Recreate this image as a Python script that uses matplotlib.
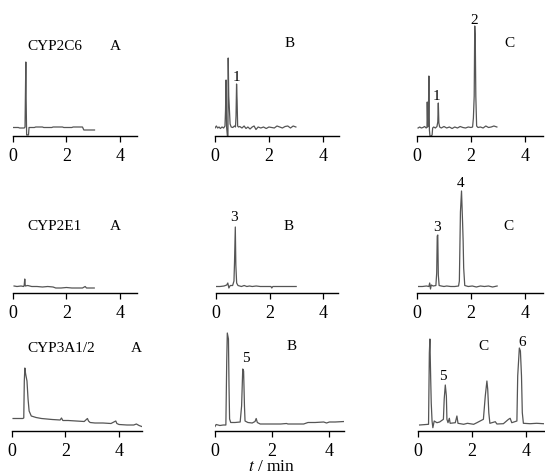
import numpy as np
import matplotlib.pyplot as plt

plt.rcParams['font.family'] = ['Liberation Serif', 'DejaVu Serif']

# chromatogram traces: retention time (min) and detector response (arbitrary units)
t_2c6_a = [0.00, 0.20, 0.25, 0.42, 0.45, 0.48, 0.49, 0.51, 0.53, 0.58, 0.60, 0.80, 0.85, 1.10, 1.15,
           1.45, 1.50, 1.85, 1.90, 2.20, 2.25, 2.60, 2.65, 3.05]
y_2c6_a = [8.5, 8.5, 8, 8, 9, 74, 40, 1, 1, 1, 8.5, 8.5, 9, 9, 8.5,
           8.5, 9, 9, 8.5, 8.5, 9, 9, 6, 6]

t_2c6_b = [0.00, 0.05, 0.10, 0.15, 0.20, 0.26, 0.32, 0.37, 0.39, 0.41, 0.43, 0.45, 0.46, 0.48, 0.49,
           0.51, 0.53, 0.56, 0.60, 0.66, 0.72, 0.76, 0.78, 0.80, 0.82, 0.84, 0.87, 0.92, 1.00, 1.08,
           1.15, 1.22, 1.30, 1.38, 1.45, 1.52, 1.60, 1.70, 1.80, 1.90, 2.00, 2.10, 2.20, 2.30, 2.40,
           2.50, 2.60, 2.70, 2.80, 2.90, 3.00]
y_2c6_b = [8, 10, 8, 9, 7.5, 9, 8, 10, 25, 56, 9, 3, 0, 0, 78,
           40, 29, 12, 9, 8.5, 10, 9, 20, 52, 35, 10, 9, 9.5, 8, 10,
           7.5, 9, 7, 9, 10, 6.5, 9, 8, 9, 7.5, 9, 8.5, 8, 10, 9,
           8, 9.5, 10, 8, 10, 9]

t_2c6_c = [0.04, 0.10, 0.16, 0.22, 0.28, 0.34, 0.37, 0.38, 0.40, 0.42, 0.44, 0.46, 0.48, 0.52, 0.56,
           0.58, 0.62, 0.68, 0.74, 0.77, 0.79, 0.81, 0.84, 0.90, 1.00, 1.10, 1.20, 1.30, 1.40, 1.50,
           1.60, 1.70, 1.80, 1.90, 2.00, 2.06, 2.09, 2.12, 2.14, 2.16, 2.18, 2.21, 2.26, 2.35, 2.45,
           2.55, 2.65, 2.75, 2.85, 2.96]
y_2c6_c = [8, 9, 8, 8.5, 9.5, 8, 9, 34, 9, 15, 60, 6, 0, 0, 1,
           8, 9, 8, 9.5, 14, 33, 13, 9, 8, 9.5, 8, 9, 7.5, 9, 8,
           9.5, 8.5, 8, 9, 8.5, 9, 18, 40, 110, 97, 40, 10, 8.5, 9, 8,
           10, 8.5, 9, 10, 9]

t_2e1_a = [0.04, 0.15, 0.30, 0.40, 0.42, 0.44, 0.46, 0.55, 0.70, 0.90, 1.10, 1.30, 1.50, 1.60, 1.80,
           2.00, 2.20, 2.40, 2.60, 2.70, 2.75, 2.85, 3.04]
y_2e1_a = [7, 6.5, 7, 6.5, 8, 14, 7, 7.5, 6.5, 6.5, 6, 6.5, 6, 5, 5,
           5.5, 5, 5, 5, 6.5, 5, 5, 5]

t_2e1_b = [0.01, 0.15, 0.30, 0.40, 0.44, 0.48, 0.53, 0.62, 0.67, 0.69, 0.72, 0.74, 0.77, 0.82, 0.95,
           1.05, 1.15, 1.25, 1.35, 1.50, 1.65, 1.85, 2.05, 2.08, 2.12, 2.40, 2.70, 2.99]
y_2e1_b = [6.5, 6.5, 7, 8, 10, 5, 7.5, 7.5, 12, 30, 66, 28, 10, 7.5, 6.5,
           7.5, 6.5, 7, 6.5, 7, 6.5, 6.5, 6.5, 5, 6.5, 6.5, 6.5, 6.5]

t_2e1_c = [0.06, 0.20, 0.35, 0.44, 0.47, 0.50, 0.53, 0.60, 0.70, 0.73, 0.75, 0.77, 0.79, 0.82, 0.90,
           1.00, 1.10, 1.25, 1.40, 1.54, 1.57, 1.61, 1.65, 1.69, 1.71, 1.73, 1.77, 1.90, 2.05, 2.20,
           2.35, 2.50, 2.65, 2.80, 2.97]
y_2e1_c = [6.5, 6.5, 7, 6.5, 10, 4, 8, 7, 7.5, 20, 57, 58, 18, 7.5, 7,
           6.5, 7, 6.5, 6.5, 7, 12, 81, 102, 70, 52, 25, 7.5, 6.5, 7, 6,
           7, 6.5, 7, 6, 7]

t_3a_a = [0.04, 0.20, 0.40, 0.44, 0.46, 0.48, 0.51, 0.56, 0.60, 0.64, 0.72, 0.90, 1.10, 1.30, 1.50,
          1.80, 1.85, 1.90, 2.10, 2.40, 2.70, 2.82, 2.86, 2.92, 3.10, 3.40, 3.70, 3.88, 3.92, 4.00,
          4.30, 4.55, 4.65, 4.75, 4.85]
y_3a_a = [12.5, 12.5, 12.5, 13, 50, 63, 57, 50, 32, 20, 15, 13.5, 12.5, 12, 11.5,
          11, 13, 10.5, 10.5, 10, 9.5, 12.5, 10, 8.5, 8, 8, 7.5, 10, 7.5, 6.5,
          6, 6, 7, 5.5, 4.5]

t_3a_b = [0.00, 0.04, 0.17, 0.29, 0.38, 0.41, 0.43, 0.47, 0.49, 0.51, 0.55, 0.70, 0.88, 0.93, 0.97,
          1.00, 1.03, 1.05, 1.15, 1.30, 1.40, 1.44, 1.48, 1.58, 1.90, 2.30, 2.50, 2.55, 2.80, 3.10,
          3.25, 3.50, 3.80, 3.90, 4.00, 4.20, 4.52]
y_3a_b = [4.5, 6.5, 5.5, 6, 6, 70, 98, 92, 45, 12, 8.5, 8.5, 9, 25, 62,
          60, 25, 10, 8.5, 8, 9.5, 12.5, 8.5, 7, 7, 7, 7.5, 7, 7, 7,
          8.5, 8.5, 9, 8, 9, 9, 9.5]

t_3a_c = [0.06, 0.39, 0.42, 0.44, 0.47, 0.49, 0.52, 0.55, 0.60, 0.70, 0.80, 0.94, 0.97, 1.01, 1.05,
          1.07, 1.11, 1.16, 1.19, 1.38, 1.44, 1.48, 1.69, 1.83, 2.06, 2.18, 2.42, 2.49, 2.55, 2.58,
          2.62, 2.66, 2.86, 2.92, 3.16, 3.35, 3.41, 3.47, 3.66, 3.69, 3.75, 3.79, 3.83, 3.86, 3.90,
          4.15, 4.39, 4.64]
y_3a_c = [6, 6.7, 78, 92, 52, 28, 10, 3.3, 10, 8.3, 9, 11.7, 32, 46, 35,
          11.7, 8.3, 12.7, 7.7, 8.3, 15, 7.7, 6.7, 7.7, 6.7, 8.3, 11.7, 35, 50, 41.7,
          18.3, 7.7, 9.3, 7, 7.3, 11.7, 12.7, 8.3, 10, 55, 83, 80, 55, 18.3, 7.7,
          7.3, 7.7, 7.3]

ticks = [0, 2, 4]


def pix_axes(fig, left, base, right, top=120):
    # left/right/base in pixels from top-left corner, y range = pixels above the axis line
    W, H = 545, 477
    ax = fig.add_axes([left / W, 1 - base / H, (right - left) / W, top / H])
    ax.set_ylim(0, top)
    for s in ['left', 'right', 'top']:
        ax.spines[s].set_visible(False)
    ax.spines['bottom'].set_linewidth(1.0)
    ax.set_yticks([])
    ax.set_xticks(ticks)
    ax.tick_params(axis='x', direction='out', length=4.5, width=0.9, pad=3.5, labelsize=13)
    ax.patch.set_alpha(0)
    return ax


def panel(fig, left, base, right, xmax, t, y, labels):
    ax = pix_axes(fig, left, base, right)
    ax.set_xlim(0, xmax)
    ax.plot(t, y, color='#555555', lw=0.9)
    for (tx, ty, s, ha) in labels:
        ax.text(tx, ty, s, ha=ha, va='center', fontsize=11, clip_on=False)
    return ax


fig = plt.figure(figsize=(5.45, 4.77), dpi=100)

# row 1 : CYP2C6
panel(fig, 13, 137, 137, 4.64, t_2c6_a, y_2c6_a,
      [(0.52, 91, 'CYP2C6', 'left'), (3.82, 91, 'A', 'center')])
panel(fig, 215, 137, 339, 4.6, t_2c6_b, y_2c6_b,
      [(2.78, 94, 'B', 'center'), (0.81, 60, '1', 'center')])
panel(fig, 417, 137, 543, 4.67, t_2c6_c, y_2c6_c,
      [(3.44, 94, 'C', 'center'), (2.11, 117, '2', 'center'), (0.74, 40, '1', 'center')])

# row 2 : CYP2E1
panel(fig, 13, 294, 137, 4.64, t_2e1_a, y_2e1_a,
      [(0.52, 67, 'CYP2E1', 'left'), (3.82, 67, 'A', 'center')])
panel(fig, 216, 294, 338, 4.55, t_2e1_b, y_2e1_b,
      [(2.72, 67, 'B', 'center'), (0.67, 76, '3', 'center')])
panel(fig, 417, 294, 543, 4.67, t_2e1_c, y_2e1_c,
      [(3.38, 67, 'C', 'center'), (0.74, 66, '3', 'center'), (1.60, 110, '4', 'center')])

# row 3 : CYP3A1/2
panel(fig, 12, 432, 142, 4.86, t_3a_a, y_3a_a,
      [(0.56, 84, 'CYP3A1/2', 'left'), (4.64, 84, 'A', 'center')])
panel(fig, 215, 432, 344, 4.51, t_3a_b, y_3a_b,
      [(2.69, 85, 'B', 'center'), (1.08, 73, '5', 'center')])
panel(fig, 418, 432, 545, 4.7, t_3a_c, y_3a_c,
      [(2.41, 85, 'C', 'center'), (0.93, 55, '5', 'center'), (3.85, 90, '6', 'center')])

fig.text(272 / 545, 1 - 467 / 477, '$\\mathit{t}$ / min', ha='center', va='center', fontsize=12.5,
         math_fontfamily='stix')

fig.savefig('out.png', dpi=100)
